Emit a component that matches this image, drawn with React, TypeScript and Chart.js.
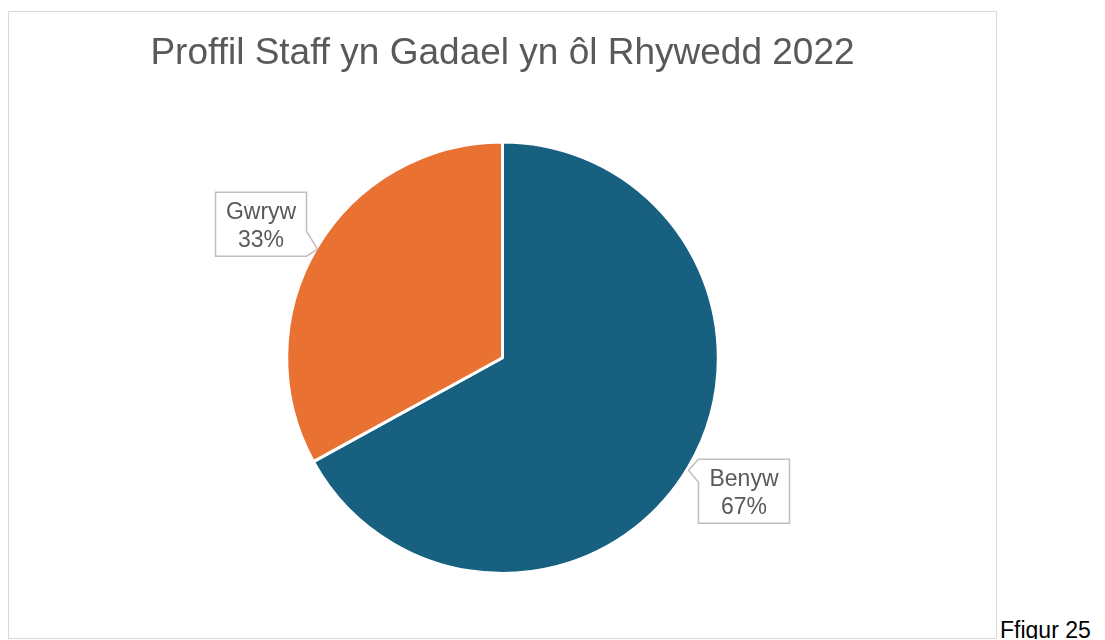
import React, { useEffect, useRef } from "react";
import { Chart, registerables } from "chart.js";

Chart.register(...registerables);

const TITLE = "Proffil Staff yn Gadael yn ôl Rhywedd 2022";
const CATEGORIES = ["Benyw", "Gwryw"];
const VALUES = [67, 33];
const PERCENT_LABELS = ["67%", "33%"];
const COLORS = ["#17607F", "#E97132"];
const FIGURE_CAPTION = "Ffigur 25";

const FONT = "'Liberation Sans', Arial, Helvetica, sans-serif";

const calloutPlugin = {
  id: "callouts",
  afterDatasetsDraw(chart: any) {
    const ctx = chart.ctx as CanvasRenderingContext2D;
    const meta = chart.getDatasetMeta(0);
    const boxW = 91;
    const boxH = 64;
    meta.data.forEach((arc: any, i: number) => {
      const { x: cx, y: cy, startAngle, endAngle, outerRadius } = arc.getProps(
        ["x", "y", "startAngle", "endAngle", "outerRadius"],
        true
      );
      const mid = (startAngle + endAngle) / 2;
      const bx = cx + Math.cos(mid) * outerRadius * 1.3;
      const by = cy + Math.sin(mid) * outerRadius * 1.215;
      const left = bx - boxW / 2;
      const top = by - boxH / 2;
      const right = left + boxW;
      const bottom = top + boxH;
      ctx.save();
      ctx.beginPath();
      if (Math.cos(mid) < 0) {
        ctx.moveTo(left, top);
        ctx.lineTo(right, top);
        ctx.lineTo(right, top + 39);
        ctx.lineTo(right + 11, top + 57);
        ctx.lineTo(right, bottom);
        ctx.lineTo(left, bottom);
        ctx.closePath();
      } else {
        ctx.moveTo(left, top);
        ctx.lineTo(right, top);
        ctx.lineTo(right, bottom);
        ctx.lineTo(left, bottom);
        ctx.lineTo(left, top + 23);
        ctx.lineTo(left - 10, top + 11);
        ctx.closePath();
      }
      ctx.fillStyle = "#ffffff";
      ctx.fill();
      ctx.strokeStyle = "#BFBFBF";
      ctx.lineWidth = 1.5;
      ctx.stroke();
      ctx.fillStyle = "#595959";
      ctx.font = `23px ${FONT}`;
      ctx.textAlign = "center";
      ctx.textBaseline = "middle";
      ctx.fillText(CATEGORIES[i], bx, top + 20);
      ctx.fillText(PERCENT_LABELS[i], bx, top + 48);
      ctx.restore();
    });
  },
};

function PieChart() {
  const ref = useRef<HTMLCanvasElement | null>(null);
  useEffect(() => {
    if (!ref.current) return;
    const chart = new Chart(ref.current, {
      type: "pie",
      data: {
        labels: CATEGORIES,
        datasets: [
          {
            data: VALUES,
            backgroundColor: COLORS,
            borderColor: "#ffffff",
            borderWidth: 3,
          },
        ],
      },
      options: {
        animation: false,
        responsive: true,
        maintainAspectRatio: false,
        layout: { padding: { top: 0, bottom: 63, left: 0, right: 0 } },
        plugins: {
          legend: { display: false },
          tooltip: { enabled: false },
          title: {
            display: true,
            text: TITLE,
            color: "#595959",
            font: { family: FONT, size: 37, weight: "normal", lineHeight: 1.2 },
            padding: { top: 20, bottom: 64 },
          },
        },
      },
      plugins: [calloutPlugin],
    });
    return () => chart.destroy();
  }, []);
  return <canvas ref={ref} />;
}

export default function App() {
  return (
    <div style={{ display: "flex", alignItems: "flex-end" }}>
      <div
        style={{
          width: 989,
          height: 628,
          marginTop: 3,
          border: "1px solid #D9D9D9",
          boxSizing: "border-box",
          position: "relative",
          flex: "0 0 auto",
        }}
      >
        <PieChart />
      </div>
      <span
        style={{
          fontFamily: FONT,
          fontSize: 23,
          color: "#000000",
          lineHeight: "26px",
          marginLeft: 3,
          marginBottom: -4,
          whiteSpace: "nowrap",
        }}
      >
        {FIGURE_CAPTION}
      </span>
    </div>
  );
}
